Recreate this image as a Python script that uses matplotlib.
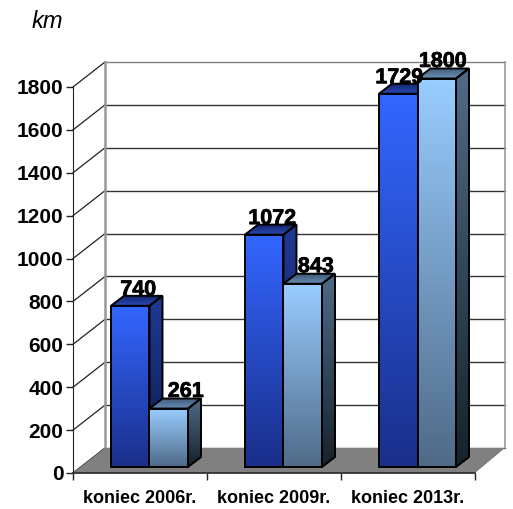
import numpy as np
import matplotlib
matplotlib.use('Agg')
import matplotlib.pyplot as plt
import matplotlib.patheffects as pe
from matplotlib.colors import LinearSegmentedColormap
from matplotlib.patches import Polygon
from matplotlib.transforms import Affine2D

categories = ['koniec 2006r.', 'koniec 2009r.', 'koniec 2013r.']
series_a = [740, 1072, 1729]
series_b = [261, 843, 1800]
y_ticks = list(range(0, 2000, 200))

W, H = 513, 509
X0, X1, Y0, Y1 = 73, 475, 473, 87   # plot box in pixels
PX_X = (X1 - X0) / 3
PX_Y = (Y0 - Y1) / 1800


def gradient(c1, c2):
    return LinearSegmentedColormap.from_list('g', [c1, c2])


def fill(ax, pts, c1, c2, z, lw=1.4):
    # polygon with a vertical gradient, clipped with the outline
    pts = np.array(pts)
    poly = Polygon(pts, closed=True, fc='none', ec='black', lw=lw, zorder=z + 0.1, clip_on=False)
    ax.add_patch(poly)
    im = ax.imshow(np.linspace(0, 1, 64).reshape(-1, 1), cmap=gradient(c1, c2), aspect='auto',
                   extent=[pts[:, 0].min(), pts[:, 0].max(), pts[:, 1].min(), pts[:, 1].max()],
                   origin='upper', zorder=z, interpolation='bilinear')
    im.set_clip_path(poly)
    im.set_clip_box(ax.figure.bbox)


def bar3d(ax, left, val, front, side, top, z):
    # geometry in pixels converted to data units
    w = 38.5 / PX_X
    dx = 13 / PX_X
    dy = 10 / PX_Y
    base = 6 / PX_Y
    shift = 8.5 / PX_Y
    y_top = val + shift
    fill(ax, [(left + w, base), (left + w + dx, base + dy), (left + w + dx, y_top + dy), (left + w, y_top)],
         side[0], side[1], z)
    fill(ax, [(left, y_top), (left + w, y_top), (left + w + dx, y_top + dy), (left + dx, y_top + dy)],
         top[0], top[1], z)
    fill(ax, [(left, base), (left + w, base), (left + w, y_top), (left, y_top)],
         front[0], front[1], z + 0.2)


fig = plt.figure(figsize=(W / 100, H / 100), dpi=100)
plt.rcParams['font.family'] = ['Liberation Sans', 'DejaVu Sans']
ax = fig.add_axes([X0 / W, 1 - Y0 / H, (X1 - X0) / W, (Y0 - Y1) / H])

wall_x = 32 / PX_X
wall_y = 25 / PX_Y
right = 3 + 30 / PX_X
heavy = [pe.withStroke(linewidth=0.5, foreground='black')]

# back wall
for v in y_ticks:
    col = '#808080' if v in (1800,) else '#333333'
    ax.plot([wall_x, right], [v + wall_y, v + wall_y], color=col, lw=1, zorder=1, clip_on=False)
    ax.plot([0, wall_x], [v, v + wall_y], color='#222222', lw=0.9, zorder=1, clip_on=False)
ax.plot([wall_x, wall_x], [wall_y, 1800 + wall_y], color='#999999', lw=1.8, zorder=1.2, clip_on=False)
ax.plot([right, right], [wall_y, 1800 + wall_y], color='#999999', lw=1.2, zorder=1.2, clip_on=False)

# floor
ax.add_patch(Polygon([(0, 0), (3, 0), (right, wall_y), (wall_x, wall_y)], closed=True,
                     fc='#808080', ec='none', zorder=2, clip_on=False))

# bars
lefts_a = [(111 - X0) / PX_X + i for i in range(3)]
for i in range(3):
    left = lefts_a[i]
    bar3d(ax, left, series_a[i], ('#3366ff', '#1a2f8a'), ('#1f3a95', '#0c1a48'), ('#13256e', '#2a4bb8'), 3 + i)
    bar3d(ax, left + 38.5 / PX_X, series_b[i], ('#99ccff', '#4f6b88'), ('#4f6b88', '#16222c'), ('#3f5a78', '#6a8fb5'), 3.5 + i)

# data labels, nudged in pixels like the original
offs_a = [(8, 16), (8, 16), (1, 16)]
offs_b = [(17, 17), (13, 17), (6, 17)]
w_px = 38.5
for i in range(3):
    xa = lefts_a[i] + 0.5 * w_px / PX_X
    xb = lefts_a[i] + 1.5 * w_px / PX_X
    for x, v, off in ((xa, series_a[i], offs_a[i]), (xb, series_b[i], offs_b[i])):
        tr = ax.transData + Affine2D().translate(off[0], off[1] + 8.5)
        ax.text(x, v, str(v), transform=tr, ha='center', va='center', fontsize=15.5,
                fontweight='bold', color='black', zorder=20, clip_on=False, path_effects=heavy)

ax.set_xlim(0, 3)
ax.set_ylim(0, 1800)
ax.patch.set_visible(False)
for s in ('top', 'right'):
    ax.spines[s].set_visible(False)
ax.spines['left'].set_color('#222222')
ax.spines['left'].set_zorder(10)
ax.spines['bottom'].set_color('#333333')
ax.spines['bottom'].set_linewidth(1.3)
ax.spines['bottom'].set_zorder(10)

ax.set_yticks(y_ticks)
ax.set_yticklabels([str(v) for v in y_ticks], fontsize=15, fontweight='bold')
ax.set_xticks([0, 1, 2, 3])
ax.set_xticklabels([])
ax.set_xticks([0.5, 1.5, 2.5], minor=True)
ax.set_xticklabels(categories, minor=True, fontsize=13, fontweight='bold')
ax.tick_params(axis='x', which='minor', length=0, pad=12)
ax.tick_params(axis='x', which='major', length=5, width=1, color='#222222')
ax.tick_params(axis='y', length=5, width=1, color='#222222', pad=2)

fig.text(47 / W, 1 - 21 / H, 'km', fontsize=17, style='italic', ha='center', va='center',
         family=['Liberation Sans', 'DejaVu Sans'])

fig.savefig('out.png', dpi=100)
